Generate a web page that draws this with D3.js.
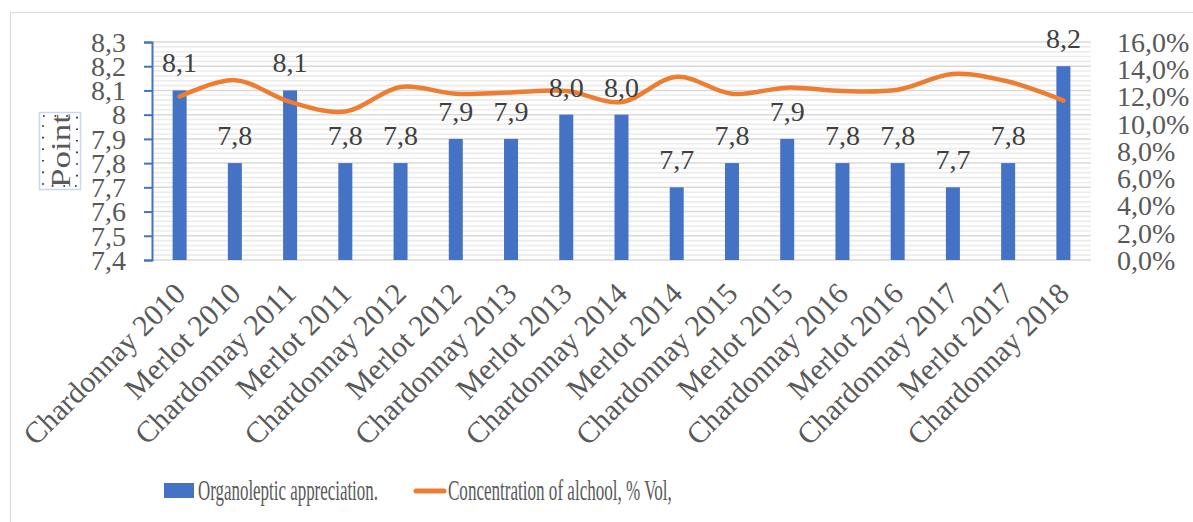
<!DOCTYPE html>
<html>
<head>
<meta charset="utf-8">
<script src="https://cdn.jsdelivr.net/npm/d3@7"></script>
<style>
  html, body { margin: 0; padding: 0; background: #fff; }
  svg { display: block; font-family: "Liberation Serif", "Times New Roman", serif; }
</style>
</head>
<body>
<svg id="chart" width="1193" height="522"></svg>
<script>
// Wine samples
const categories = [
  "Chardonnay 2010", "Merlot 2010", "Chardonnay 2011", "Merlot 2011",
  "Chardonnay 2012", "Merlot 2012", "Chardonnay 2013", "Merlot 2013",
  "Chardonnay 2014", "Merlot 2014", "Chardonnay 2015", "Merlot 2015",
  "Chardonnay 2016", "Merlot 2016", "Chardonnay 2017", "Merlot 2017",
  "Chardonnay 2018"
];
// Organoleptic appreciation (points)
const appreciation = [8.1, 7.8, 8.1, 7.8, 7.8, 7.9, 7.9, 8.0, 8.0, 7.7, 7.8, 7.9, 7.8, 7.8, 7.7, 7.8, 8.2];
// Concentration of alcohol, % vol
const alcohol = [12.0, 13.2, 11.6, 10.9, 12.7, 12.2, 12.3, 12.4, 11.6, 13.45, 12.2, 12.65, 12.4, 12.5, 13.65, 13.1, 11.7];

const leftTicks = [7.4, 7.5, 7.6, 7.7, 7.8, 7.9, 8, 8.1, 8.2, 8.3];
const rightTicks = [0, 2, 4, 6, 8, 10, 12, 14, 16];
const seriesNames = ["Organoleptic appreciation.", "Concentration of alchool, % Vol,"];

const blue = "#4472C4", orange = "#ED7D31", textGrey = "#595959";
const svg = d3.select("#chart");

// chart frame
svg.append("rect").attr("x", 10.5).attr("y", 12.5).attr("width", 1200).attr("height", 600)
  .attr("fill", "#fff").attr("stroke", "#d9d9d9").attr("stroke-width", 1);

const plot = { left: 152, right: 1091, top: 42, bottom: 260 };

const x = d3.scaleBand().domain(categories).range([plot.left, plot.right]).paddingInner(0).paddingOuter(0);
const yL = d3.scaleLinear().domain([7.4, 8.3]).range([plot.bottom, plot.top]);
const yR = d3.scaleLinear().domain([0, 16]).range([plot.bottom, plot.top]);

// minor gridlines
const minor = d3.range(7.42, 8.3, 0.02).filter(v => Math.abs(Math.round(v * 10) - v * 10) > 0.01);
svg.append("g").selectAll("line").data(minor).join("line")
  .attr("x1", plot.left).attr("x2", plot.right)
  .attr("y1", d => yL(d)).attr("y2", d => yL(d))
  .attr("stroke", "#ececec").attr("stroke-width", 1.6);

// major gridlines
svg.append("g").selectAll("line").data(leftTicks).join("line")
  .attr("x1", plot.left).attr("x2", plot.right)
  .attr("y1", d => yL(d)).attr("y2", d => yL(d))
  .attr("stroke", "#d9d9d9").attr("stroke-width", 1.5);

// bars
const barW = 14;
svg.append("g").selectAll("rect").data(appreciation).join("rect")
  .attr("x", (d, i) => x(categories[i]) + x.bandwidth() / 2 - barW / 2)
  .attr("width", barW)
  .attr("y", d => yL(d))
  .attr("height", d => yL(7.4) - yL(d))
  .attr("fill", blue);

// left axis (blue line, outward ticks)
const axisL = svg.append("g").attr("transform", `translate(${plot.left},0)`)
  .call(d3.axisLeft(yL).tickValues(leftTicks).tickSize(8).tickPadding(18)
    .tickFormat(d => String(d).replace(".", ",")));
axisL.select(".domain").attr("stroke", blue).attr("stroke-width", 2);
axisL.selectAll(".tick line").attr("stroke", blue).attr("stroke-width", 2);
axisL.selectAll(".tick text").attr("fill", textGrey).attr("font-size", 28)
  .attr("font-family", "Liberation Serif").attr("dy", "0.33em");

// right axis (labels only)
const axisR = svg.append("g").attr("transform", `translate(${plot.right},0)`)
  .call(d3.axisRight(yR).tickValues(rightTicks).tickSize(0).tickPadding(26)
    .tickFormat(d => d.toFixed(1).replace(".", ",") + "%"));
axisR.select(".domain").remove();
axisR.selectAll(".tick text").attr("fill", textGrey).attr("font-size", 28)
  .attr("font-family", "Liberation Serif").attr("dy", "0.33em");

// category labels, rotated
svg.append("g").selectAll("text").data(categories).join("text")
  .attr("transform", d => `translate(${x(d) + x.bandwidth() / 2},${288}) rotate(-45)`)
  .attr("text-anchor", "end").attr("dy", "0.35em")
  .attr("font-size", 30).attr("fill", textGrey)
  .text(d => d);

// alcohol line
const line = d3.line()
  .x((d, i) => x(categories[i]) + x.bandwidth() / 2)
  .y(d => yR(d))
  .curve(d3.curveCatmullRom.alpha(0.5));
svg.append("path").datum(alcohol).attr("d", line)
  .attr("fill", "none").attr("stroke", orange).attr("stroke-width", 4.5)
  .attr("stroke-linecap", "round").attr("stroke-linejoin", "round");

// value labels
svg.append("g").selectAll("text").data(appreciation).join("text")
  .attr("x", (d, i) => x(categories[i]) + x.bandwidth() / 2)
  .attr("y", d => yL(d) - 18)
  .attr("text-anchor", "middle")
  .attr("font-size", 28).attr("fill", "#404040")
  .text(d => d.toFixed(1).replace(".", ","));

// axis title with its selection frame
const tb = svg.append("g");
tb.append("rect").attr("x", 39.5).attr("y", 112.5).attr("width", 41).attr("height", 77)
  .attr("fill", "none").attr("stroke", "#c9d7ee").attr("stroke-width", 1.5);
tb.append("rect").attr("x", 43).attr("y", 116).attr("width", 34).attr("height", 70)
  .attr("fill", "none").attr("stroke", "#111").attr("stroke-width", 1.6)
  .attr("stroke-dasharray", "1.6,10");
tb.append("text")
  .attr("transform", "translate(70,151) rotate(-90)")
  .attr("text-anchor", "middle")
  .attr("font-size", 28).attr("fill", textGrey)
  .attr("textLength", 74).attr("lengthAdjust", "spacingAndGlyphs")
  .text("Point");

// legend: entries are squeezed horizontally to their slot widths
const lg = svg.append("g");
function squeezedText(x0, baseline, width, label) {
  const t = lg.append("text").attr("font-size", 30).attr("fill", textGrey).text(label);
  const w = t.node().getComputedTextLength();
  t.attr("transform", `translate(${x0},${baseline}) scale(${width / w},1)`);
}
lg.append("rect").attr("x", 164).attr("y", 483).attr("width", 30).attr("height", 15).attr("fill", blue);
squeezedText(198, 500, 180, seriesNames[0]);
lg.append("line").attr("x1", 416).attr("x2", 444).attr("y1", 491).attr("y2", 491)
  .attr("stroke", orange).attr("stroke-width", 5).attr("stroke-linecap", "round");
squeezedText(448, 500, 224, seriesNames[1]);
</script>
</body>
</html>
